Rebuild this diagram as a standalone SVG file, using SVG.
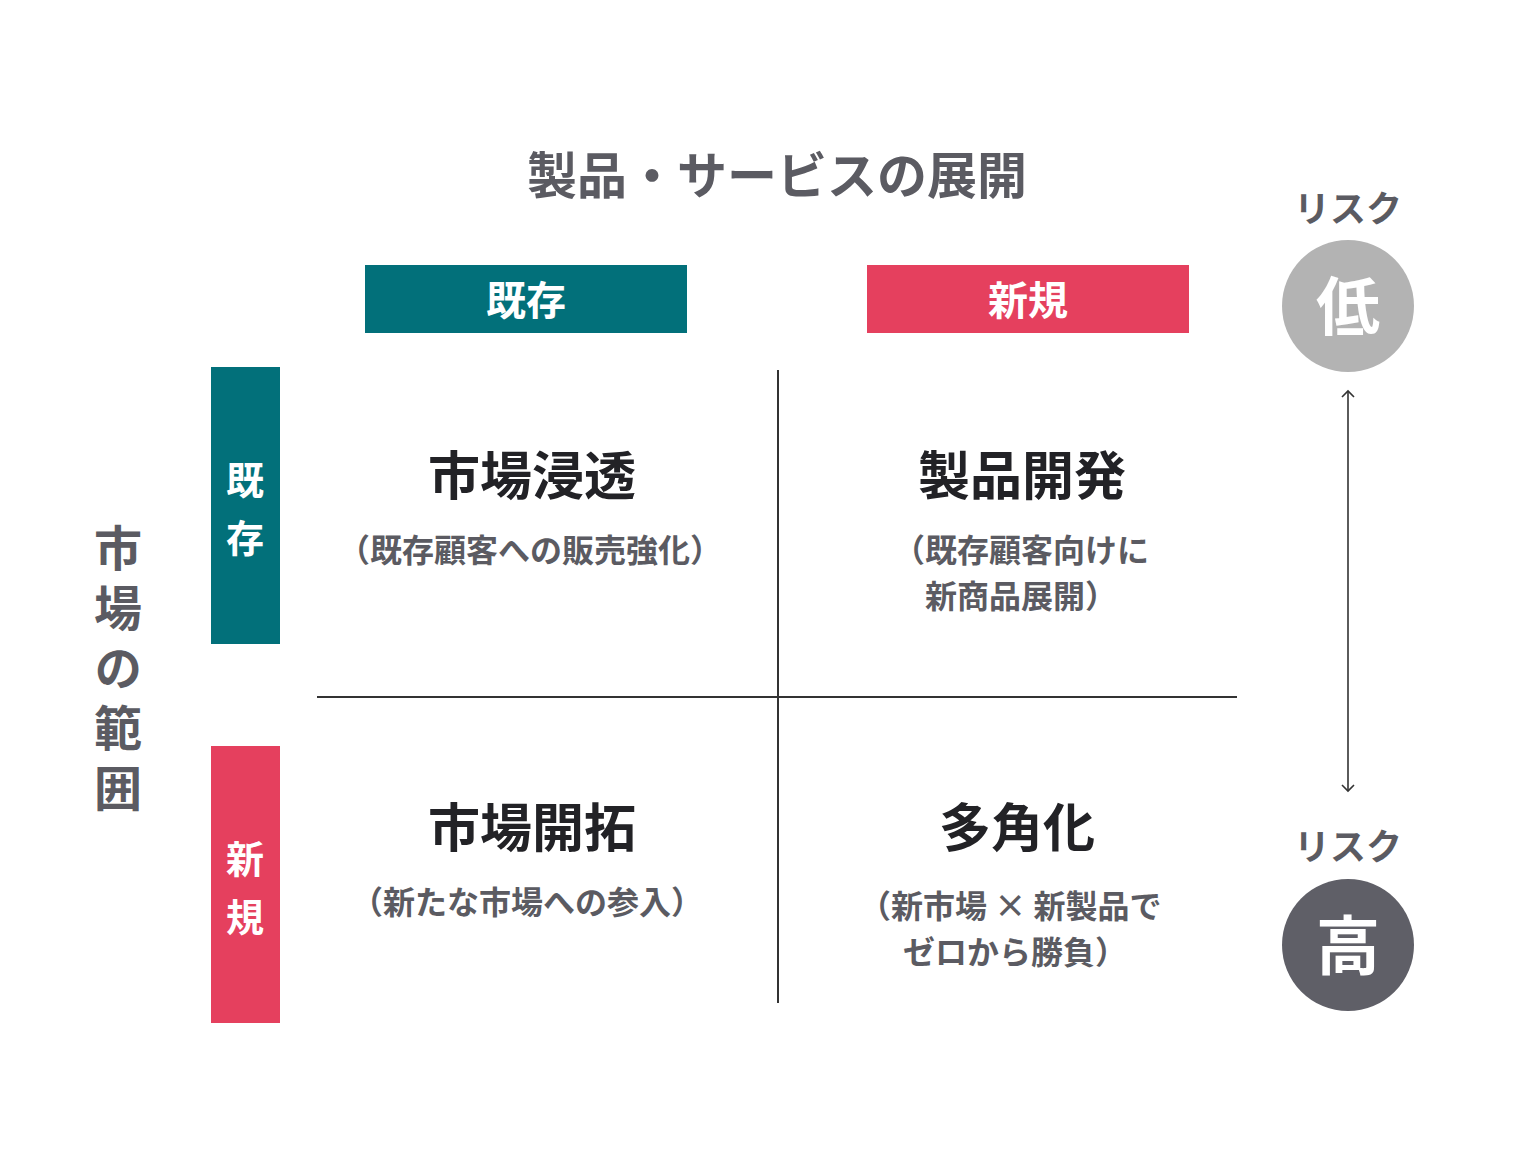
<svg xmlns="http://www.w3.org/2000/svg" width="1539" height="1167" viewBox="0 0 1539 1167">
<style>
text{font-family:"Noto Sans CJK JP","Noto Sans CJK SC",sans-serif;font-weight:700}
.title{font-size:50px;fill:#5b5b62}
.hdr{font-size:40px;fill:#fff}
.side{font-size:38px;fill:#fff}
.axis{font-size:48px;fill:#5b5b62;writing-mode:vertical-rl;letter-spacing:12px}
.qt{font-size:52px;fill:#222226}
.qs{font-size:32px;fill:#5b5b62}
.risk{font-size:36px;fill:#5b5b62}
.circ{font-size:64px;fill:#fff}
.grid{stroke:#333;stroke-width:2;fill:none}
</style>
<defs>
<marker id="ah" viewBox="0 0 14 14" refX="12" refY="7" markerWidth="14" markerHeight="14" markerUnits="userSpaceOnUse" orient="auto-start-reverse">
<path d="M6,1 L12,7 L6,13" fill="none" stroke="#333" stroke-width="1.6"/>
</marker>
</defs>
<rect width="1539" height="1167" fill="#fff"/>
<g id="title"><text class="title" x="777" y="194" text-anchor="middle">製品・サービスの展開</text></g>
<g id="col-existing"><rect x="365" y="265" width="322" height="68" fill="#02707a"/><text class="hdr" x="526" y="315" text-anchor="middle">既存</text></g>
<g id="col-new"><rect x="867" y="265" width="322" height="68" fill="#e5405e"/><text class="hdr" x="1028" y="315" text-anchor="middle">新規</text></g>
<g id="row-existing"><rect x="211" y="367" width="69" height="277" fill="#02707a"/><text class="side" x="245" y="494" text-anchor="middle">既</text><text class="side" x="245" y="552" text-anchor="middle">存</text></g>
<g id="row-new"><rect x="211" y="746" width="69" height="277" fill="#e5405e"/><text class="side" x="245" y="873" text-anchor="middle">新</text><text class="side" x="245" y="931" text-anchor="middle">規</text></g>
<g id="axis-label"><text class="axis" x="118" y="524">市場の範囲</text></g>
<g id="connectors">
<line class="grid" x1="778" y1="370" x2="778" y2="1003"/>
<line class="grid" x1="317" y1="697" x2="1237" y2="697"/>
<line x1="1348" y1="391" x2="1348" y2="791" stroke="#333" stroke-width="1.6" marker-start="url(#ah)" marker-end="url(#ah)"/>
</g>
<g id="q1"><text class="qt" x="532" y="495" text-anchor="middle">市場浸透</text><text class="qs" x="530" y="562" text-anchor="middle">（既存顧客への販売強化）</text></g>
<g id="q2"><text class="qt" x="1022" y="495" text-anchor="middle">製品開発</text><text class="qs" x="893" y="562">（既存顧客向けに</text><text class="qs" x="925" y="608">新商品展開）</text></g>
<g id="q3"><text class="qt" x="532" y="847" text-anchor="middle">市場開拓</text><text class="qs" x="527" y="914" text-anchor="middle">（新たな市場への参入）</text></g>
<g id="q4"><text class="qt" x="1017" y="847" text-anchor="middle">多角化</text><text class="qs" x="859" y="918">（新市場 × 新製品で</text><text class="qs" x="903" y="964">ゼロから勝負）</text></g>
<g id="risk-low"><text class="risk" x="1348" y="222" text-anchor="middle">リスク</text><circle cx="1348" cy="306" r="66" fill="#b3b3b3"/><text class="circ" x="1348" y="330" text-anchor="middle">低</text></g>
<g id="risk-high"><text class="risk" x="1348" y="860" text-anchor="middle">リスク</text><circle cx="1348" cy="945" r="66" fill="#5f5f67"/><text class="circ" x="1348" y="969" text-anchor="middle">高</text></g>
</svg>
